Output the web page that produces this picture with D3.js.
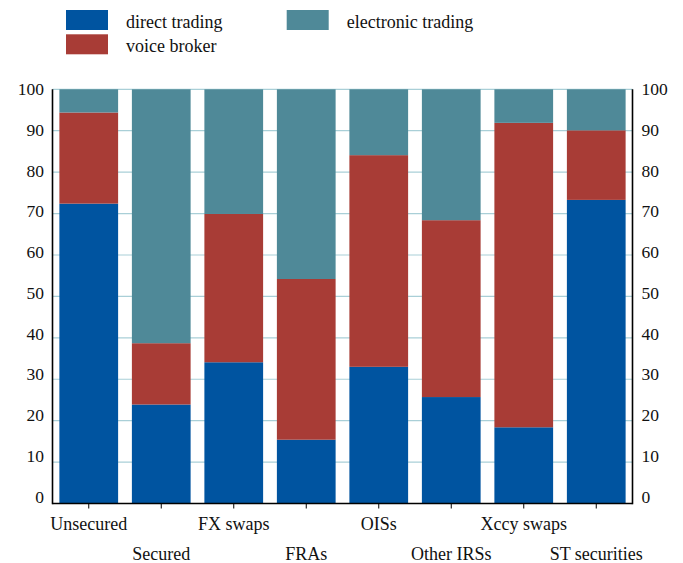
<!DOCTYPE html>
<html><head><meta charset="utf-8">
<script src="https://cdn.jsdelivr.net/npm/d3@7/dist/d3.min.js"></script>
<style>body{margin:0;background:#fff}svg{display:block}text{font-family:"Liberation Serif","Times New Roman",serif;fill:#111}</style>
</head><body><svg id="c" width="683" height="563"></svg>
<script>
const categories = ["Unsecured","Secured","FX swaps","FRAs","OISs","Other IRSs","Xccy swaps","ST securities"];
const directTrading = [72.4, 23.9, 34.1, 15.4, 33.0, 25.7, 18.4, 73.3];
const voiceBroker   = [22.0, 14.8, 35.8, 38.8, 51.1, 42.7, 73.5, 16.8];
const electronic    = [5.6, 61.3, 30.1, 45.8, 15.9, 31.6, 8.1, 9.9];
const yTicks = [0,10,20,30,40,50,60,70,80,90,100];
const seriesNames = ["direct trading","voice broker","electronic trading"];
const colors = ["#0054a0","#a83c36","#4f8998"];

const svg = d3.select("#c");
const L = 52.5, R = 632.5, T = 89.3, B = 503.5;
const x = d3.scaleBand().domain(categories).range([L, R]).paddingInner(0.19).paddingOuter(0.095);
const y = d3.scaleLinear().domain([0,100]).range([B, T]);

const rows = categories.map((c,i)=>({cat:c, "direct trading":directTrading[i], "voice broker":voiceBroker[i], "electronic trading":electronic[i]}));
const stack = d3.stack().keys(seriesNames)(rows);

// gridlines
svg.append("g").selectAll("line").data(yTicks.filter(v=>v>0)).join("line")
  .attr("x1",L).attr("x2",R).attr("y1",d=>y(d)).attr("y2",d=>y(d))
  .attr("stroke","#a9cfd7").attr("stroke-width",1.2);

// bars
svg.append("g").selectAll("g").data(stack).join("g")
  .attr("fill",(d,i)=>colors[i])
  .selectAll("rect").data(d=>d).join("rect")
  .attr("x",d=>x(d.data.cat)).attr("width",x.bandwidth())
  .attr("y",d=>y(Math.min(d[1],100))).attr("height",d=>y(d[0])-y(Math.min(d[1],100)));

// axes lines
const ax = svg.append("g").attr("stroke","#000").attr("stroke-width",1.6);
ax.append("line").attr("x1",L).attr("x2",L).attr("y1",T).attr("y2",B+0.8);
ax.append("line").attr("x1",R).attr("x2",R).attr("y1",T).attr("y2",B+0.8);
ax.append("line").attr("x1",L).attr("x2",R).attr("y1",B).attr("y2",B);
ax.selectAll(".tk").data(categories).join("line")
  .attr("x1",d=>x(d)+x.bandwidth()/2).attr("x2",d=>x(d)+x.bandwidth()/2)
  .attr("y1",B).attr("y2",B+5).attr("stroke-width",1);

// y labels
const lab = v => y(v) + 5.7 - (100-v)/100*6.7;
svg.append("g").selectAll("text").data(yTicks).join("text")
  .attr("x",44).attr("y",lab).attr("text-anchor","end").attr("font-size",17.5).text(d=>d);
svg.append("g").selectAll("text").data(yTicks).join("text")
  .attr("x",641.5).attr("y",lab).attr("text-anchor","start").attr("font-size",17.5).text(d=>d);

// x labels
svg.append("g").selectAll("text").data(categories).join("text")
  .attr("x",d=>x(d)+x.bandwidth()/2).attr("y",(d,i)=>i%2===0?530:560)
  .attr("text-anchor","middle").attr("font-size",18).text(d=>d);

// legend
const leg = [{n:seriesNames[0],c:colors[0],sx:66,sy:10,tx:126,ty:27.5},
             {n:seriesNames[1],c:colors[1],sx:66,sy:34.3,tx:126,ty:51.7},
             {n:seriesNames[2],c:colors[2],sx:286.7,sy:10,tx:346.7,ty:27.5}];
const lg = svg.append("g");
lg.selectAll("rect").data(leg).join("rect").attr("x",d=>d.sx).attr("y",d=>d.sy).attr("width",42).attr("height",20).attr("fill",d=>d.c);
lg.selectAll("text").data(leg).join("text").attr("x",d=>d.tx).attr("y",d=>d.ty).attr("font-size",18).text(d=>d.n);
</script></body></html>
